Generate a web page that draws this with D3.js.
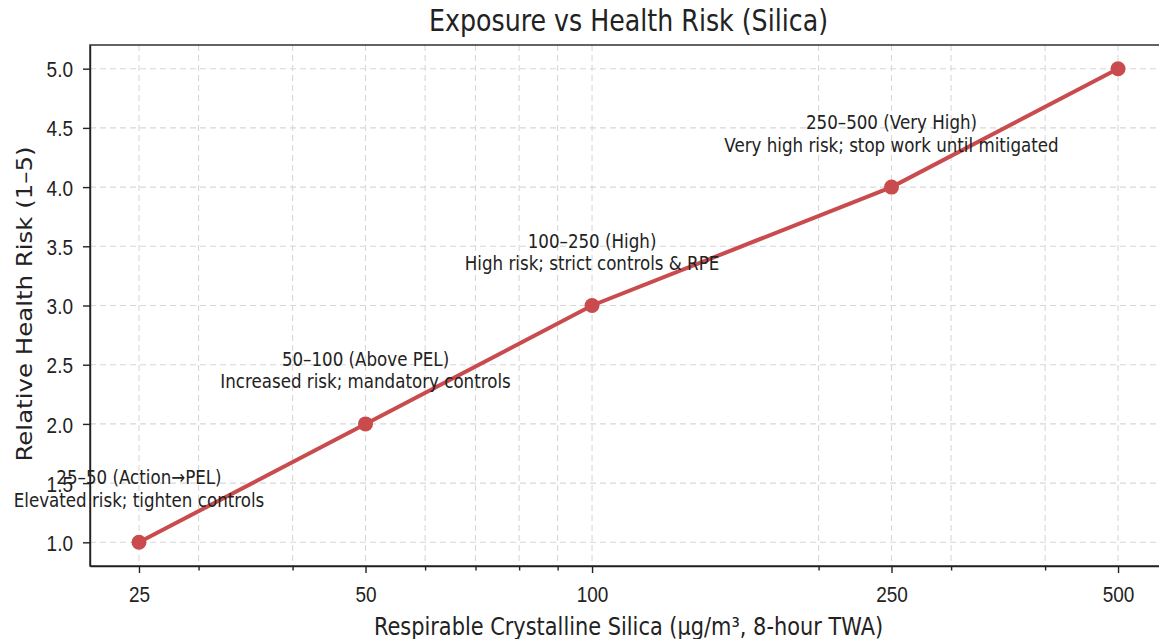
<!DOCTYPE html>
<html>
<head>
<meta charset="utf-8">
<script src="https://cdn.jsdelivr.net/npm/d3@7"></script>
<style>
  body { margin: 0; background: #fff; }
  svg { display: block; font-family: "DejaVu Sans", sans-serif; }
  .grid line { stroke: #d8d8d8; stroke-dasharray: 6,4; stroke-width: 1.1; }
  .axis path, .axis line { stroke: #222; stroke-width: 1.4; }
  .axis text { fill: #222; font-size: 19px; }
</style>
</head>
<body>
<svg id="chart" width="1159" height="639"></svg>
<script>
// exposure bands (µg/m3) and relative risk
const exposure = [25, 50, 100, 250, 500];
const risk = [1, 2, 3, 4, 5];
const bandTitles = ["25–50 (Action→PEL)", "50–100 (Above PEL)", "100–250 (High)", "250–500 (Very High)"];
const bandNotes = ["Elevated risk; tighten controls", "Increased risk; mandatory controls", "High risk; strict controls & RPE", "Very high risk; stop work until mitigated"];
const xTicks = [25, 50, 100, 250, 500];
const xMinor = [30, 40, 60, 70, 80, 90, 200, 300, 400];
const yTicks = [1.0, 1.5, 2.0, 2.5, 3.0, 3.5, 4.0, 4.5, 5.0];

const svg = d3.select("#chart");
const margin = { left: 90, top: 45, right: 1167, bottom: 566 };
const stretch = 1.17; // picture is a little taller than wide

const x = d3.scaleLog().domain([21.52, 580.8]).range([margin.left, margin.right]);
const y = d3.scaleLinear().domain([0.8, 5.2]).range([margin.bottom, margin.top]);

// grid
const grid = svg.append("g").attr("class", "grid");
grid.selectAll(".gx").data(xTicks.concat(xMinor)).enter().append("line")
    .attr("x1", d => x(d)).attr("x2", d => x(d))
    .attr("y1", margin.top).attr("y2", margin.bottom);
grid.selectAll(".gy").data(yTicks).enter().append("line")
    .attr("x1", margin.left).attr("x2", margin.right)
    .attr("y1", d => y(d)).attr("y2", d => y(d));

// axes
const xAxis = svg.append("g").attr("class", "axis")
    .attr("transform", `translate(0,${margin.bottom})`)
    .call(d3.axisBottom(x).tickValues(xTicks).tickFormat(d3.format("d")).tickSize(7).tickSizeOuter(0));
xAxis.selectAll("text")
    .attr("y", 0).attr("dy", 0)
    .attr("transform", `translate(0,35.5) scale(1,${stretch})`);

svg.append("g").attr("class", "axis")
    .attr("transform", `translate(0,${margin.bottom})`)
    .call(d3.axisBottom(x).tickValues(xMinor).tickFormat("").tickSize(4.5).tickSizeOuter(0))
    .select(".domain").remove();

const yAxis = svg.append("g").attr("class", "axis")
    .attr("transform", `translate(${margin.left},0)`)
    .call(d3.axisLeft(y).tickValues(yTicks).tickFormat(d3.format(".1f")).tickSize(7).tickSizeOuter(0));
yAxis.selectAll("text")
    .attr("x", 0).attr("dy", 0)
    .attr("transform", `translate(-17,8.1) scale(1,${stretch})`);

// frame
svg.append("rect")
    .attr("x", margin.left).attr("y", margin.top)
    .attr("width", margin.right - margin.left).attr("height", margin.bottom - margin.top)
    .attr("fill", "none").attr("stroke", "#222").attr("stroke-width", 1.4);

// line + markers
const pts = exposure.map((e, i) => ({ e: e, r: risk[i] }));
svg.append("path").datum(pts)
    .attr("fill", "none").attr("stroke", "#c94b4e").attr("stroke-width", 4)
    .attr("d", d3.line().x(d => x(d.e)).y(d => y(d.r)));
svg.selectAll(".pt").data(pts).enter().append("circle")
    .attr("cx", d => x(d.e)).attr("cy", d => y(d.r)).attr("r", 7.5)
    .attr("fill", "#c94b4e");

function label(px, py, txt, size, rot) {
    return svg.append("text")
        .attr("transform", `translate(${px},${py}) scale(1,${stretch})` + (rot ? ` rotate(${rot})` : ""))
        .attr("text-anchor", "middle").attr("font-size", size).attr("fill", "#222")
        .text(txt);
}

// band annotations
bandTitles.forEach((t, i) => {
    const cx = x(exposure[i]), cy = y(risk[i]);
    label(cx, cy - 58, t, 16.7);
    label(cx, cy - 35.5, bandNotes[i], 16.7);
});

// titles
const midX = (margin.left + margin.right) / 2;
label(midX, 31, "Exposure vs Health Risk (Silica)", 25.3);
label(midX, 635, "Respirable Crystalline Silica (µg/m³, 8-hour TWA)", 20.9);
label(32, 304, "Relative Health Risk (1–5)", 20.9, -90);
</script>
</body>
</html>
